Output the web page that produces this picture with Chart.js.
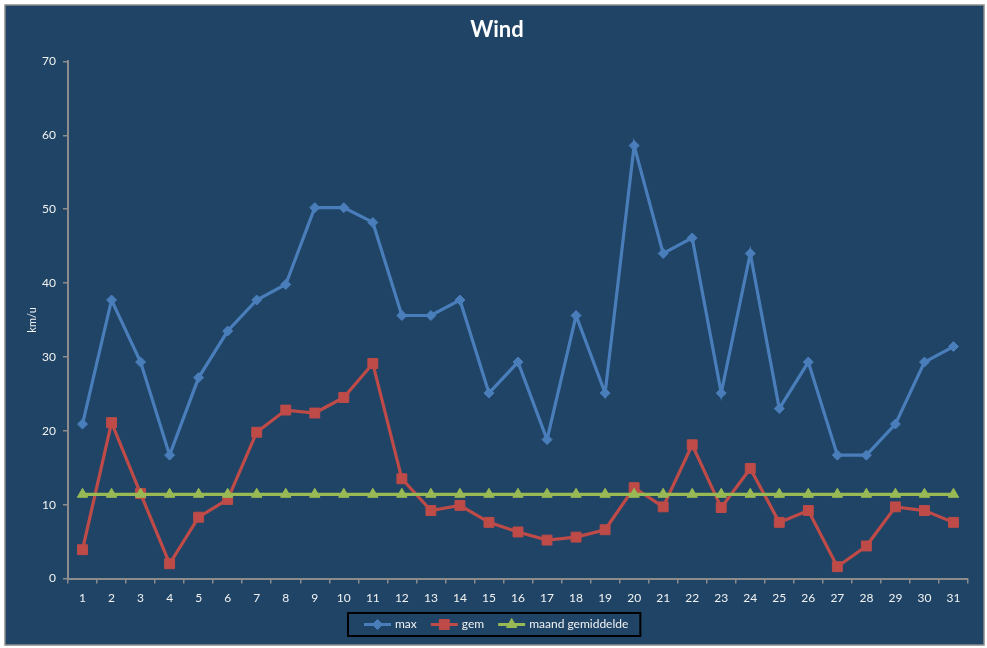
<!DOCTYPE html>
<html>
<head>
<meta charset="utf-8">
<title>Wind</title>
<script src="https://cdn.jsdelivr.net/npm/chart.js@4.4.1/dist/chart.umd.min.js"></script>
<style>
    html, body { margin: 0; padding: 0; background: #fff; }
    #wrap { width: 987px; height: 648px; }
</style>
</head>
<body>
<div id="wrap"><canvas id="windChart"></canvas></div>
<script>
const days = ['1','2','3','4','5','6','7','8','9','10','11','12','13','14','15','16',
              '17','18','19','20','21','22','23','24','25','26','27','28','29','30','31'];

const maxWind = [20.9, 37.7, 29.3, 16.7, 27.2, 33.5, 37.7, 39.8, 50.2, 50.2, 48.2, 35.6, 35.6, 37.7, 25.1, 29.3,
                 18.8, 35.6, 25.1, 58.6, 44.0, 46.1, 25.1, 44.0, 23.0, 29.3, 16.7, 16.7, 20.9, 29.3, 31.4];

const gemWind = [3.9, 21.1, 11.5, 2.0, 8.3, 10.7, 19.8, 22.8, 22.4, 24.5, 29.1, 13.5, 9.2, 9.9, 7.6, 6.3,
                 5.2, 5.6, 6.6, 12.3, 9.7, 18.1, 9.6, 14.9, 7.6, 9.2, 1.6, 4.4, 9.7, 9.2, 7.6];

const maandGem = [11.4, 11.4, 11.4, 11.4, 11.4, 11.4, 11.4, 11.4, 11.4, 11.4, 11.4, 11.4, 11.4, 11.4, 11.4, 11.4,
                  11.4, 11.4, 11.4, 11.4, 11.4, 11.4, 11.4, 11.4, 11.4, 11.4, 11.4, 11.4, 11.4, 11.4, 11.4];

const seriesNames = ['max', 'gem', 'maand gemiddelde'];
const seriesColors = ['#4A7EBB', '#BE4B48', '#98B954'];

const FONT = 'Lato, "Open Sans", sans-serif';
const TEXT = '#f2f2f2';
const AXIS = '#8c8c8c';

// dark panel with grey frame behind everything
const framePlugin = {
    id: 'frame',
    beforeDraw(chart) {
        const ctx = chart.ctx;
        ctx.save();
        ctx.fillStyle = '#ffffff';
        ctx.fillRect(0, 0, chart.width, chart.height);
        ctx.fillStyle = '#1F4466';
        ctx.fillRect(5, 5, 979, 640);
        ctx.strokeStyle = AXIS;
        ctx.lineWidth = 1.5;
        ctx.strokeRect(5, 5, 979, 640);
        ctx.restore();
    }
};

// excel style legend: line + marker, black box
const legendPlugin = {
    id: 'excelLegend',
    afterDraw(chart) {
        const ctx = chart.ctx;
        const sets = chart.data.datasets;
        const cy = 624.5;
        const lineLen = 27, textGap = 4, itemGap = 14, padL = 16, padR = 12;
        ctx.save();
        ctx.font = '12px ' + FONT;
        const widths = sets.map(ds => ctx.measureText(ds.label).width);
        let total = 0;
        widths.forEach(w => total += lineLen + textGap + w);
        total += itemGap * (sets.length - 1);
        const boxW = total + padL + padR;
        const boxX = Math.round(494 - boxW / 2);

        ctx.strokeStyle = '#000';
        ctx.lineWidth = 2;
        ctx.strokeRect(boxX, 613, boxW, 23);

        let x = boxX + padL;
        sets.forEach((ds, i) => {
            ctx.strokeStyle = ds.borderColor;
            ctx.lineWidth = 3;
            ctx.beginPath();
            ctx.moveTo(x, cy);
            ctx.lineTo(x + lineLen, cy);
            ctx.stroke();
            ctx.fillStyle = ds.pointBackgroundColor;
            ctx.strokeStyle = ds.borderColor;
            ctx.lineWidth = 1;
            Chart.helpers.drawPoint(ctx, {
                pointStyle: ds.pointStyle, radius: ds.pointRadius, rotation: 0, borderWidth: 1
            }, x + lineLen / 2, cy);
            ctx.fillStyle = TEXT;
            ctx.textAlign = 'left';
            ctx.textBaseline = 'middle';
            ctx.fillText(ds.label, x + lineLen + textGap, cy);
            x += lineLen + textGap + widths[i] + itemGap;
        });
        ctx.restore();
    }
};

new Chart(document.getElementById('windChart'), {
    type: 'line',
    data: {
        labels: days,
        datasets: [
            {
                label: seriesNames[0],
                data: maxWind,
                borderColor: seriesColors[0],
                backgroundColor: seriesColors[0],
                pointBackgroundColor: seriesColors[0],
                borderWidth: 3.2,
                pointStyle: 'rectRot',
                pointRadius: 5,
                pointBorderWidth: 1,
                order: 2
            },
            {
                label: seriesNames[1],
                data: gemWind,
                borderColor: seriesColors[1],
                backgroundColor: seriesColors[1],
                pointBackgroundColor: seriesColors[1],
                borderWidth: 3.2,
                pointStyle: 'rect',
                pointRadius: 7,
                pointBorderWidth: 1,
                order: 1
            },
            {
                label: seriesNames[2],
                data: maandGem,
                borderColor: seriesColors[2],
                backgroundColor: seriesColors[2],
                pointBackgroundColor: seriesColors[2],
                borderWidth: 3.2,
                pointStyle: 'triangle',
                pointRadius: 6,
                pointBorderWidth: 1,
                order: 0
            }
        ]
    },
    options: {
        responsive: true,
        maintainAspectRatio: false,
        animation: false,
        layout: { padding: { left: 26, right: 19, top: 0, bottom: 39.5 } },
        plugins: {
            legend: { display: false },
            tooltip: { enabled: false },
            title: {
                display: true,
                text: 'Wind',
                color: '#ffffff',
                font: { family: FONT, size: 22, weight: 'bold' },
                padding: { top: 17, bottom: 18 }
            }
        },
        scales: {
            x: {
                offset: true,
                afterFit: s => { s.height = 30; },
                grid: {
                    display: true, offset: true, drawOnChartArea: false,
                    drawTicks: true, tickLength: 5, color: AXIS, lineWidth: 1.5
                },
                border: { color: AXIS, width: 2 },
                ticks: {
                    color: TEXT, padding: 7, maxRotation: 0, autoSkip: false,
                    font: { family: FONT, size: 12 }
                }
            },
            y: {
                min: 0,
                max: 70,
                afterFit: s => { s.width = 42; },
                grid: {
                    display: true, drawOnChartArea: false,
                    drawTicks: true, tickLength: 5, color: AXIS, lineWidth: 1.5
                },
                border: { color: AXIS, width: 2 },
                ticks: {
                    stepSize: 10, color: TEXT, padding: 7,
                    font: { family: FONT, size: 12 }
                },
                title: {
                    display: true,
                    text: 'km/u',
                    color: TEXT,
                    padding: 0,
                    font: { family: FONT, size: 11 }
                }
            }
        }
    },
    plugins: [framePlugin, legendPlugin]
});
</script>
</body>
</html>
